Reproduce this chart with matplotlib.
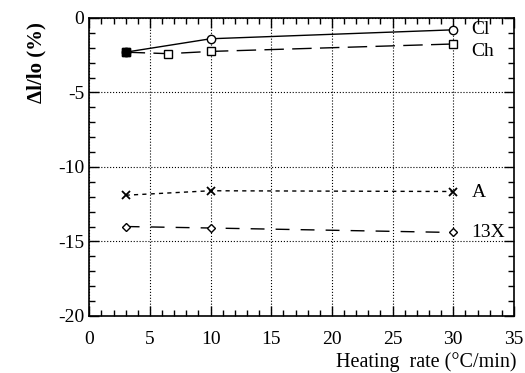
import matplotlib
matplotlib.use("Agg")
from matplotlib import pyplot as plt
from matplotlib.ticker import MultipleLocator

plt.rcParams['font.family'] = ['Liberation Serif', 'DejaVu Serif']
plt.rcParams['axes.unicode_minus'] = False

# heating rates and shrinkage values
cl_x = [3, 10, 30]
cl_y = [-2.3, -1.4, -0.8]
ch_x = [3, 6.5, 10, 30]
ch_y = [-2.3, -2.4, -2.25, -1.75]
a_x = [3, 10, 30]
a_y = [-11.9, -11.6, -11.65]
x13_x = [3, 10, 30]
x13_y = [-14.0, -14.1, -14.4]

fig = plt.figure(figsize=(5.25, 3.73), dpi=100)
ax = fig.add_axes([0.170, 0.153, 0.809, 0.799])

mk = dict(markerfacecolor='white', markeredgecolor='black', color='black', lw=1.0)
ax.plot(cl_x, cl_y, marker='o', ms=6, ls='-', **mk)
ax.plot(ch_x, ch_y, marker='s', ms=6, dashes=(14, 6), **mk)
ax.plot(a_x, a_y, marker='x', ms=6, mew=1.3, dashes=(3, 3), color='black', lw=1.0)
ax.plot(x13_x, x13_y, marker='D', ms=4.5, dashes=(10, 8), **mk)
ax.plot([3], [-2.3], marker='s', ms=6, color='black')

labels = ['Cl', 'Ch', 'A', '13X']
label_y = [-0.8, -2.25, -11.7, -14.4]
for t, yy in zip(labels, label_y):
    ax.text(31.5, yy, t, fontsize=14, va='center', ha='left')

ax.set_xlim(0, 35)
ax.set_ylim(-20, 0)
ax.xaxis.set_major_locator(MultipleLocator(5))
ax.xaxis.set_minor_locator(MultipleLocator(1))
ax.yaxis.set_major_locator(MultipleLocator(5))
ax.yaxis.set_minor_locator(MultipleLocator(1))
ax.tick_params(which='both', direction='in', top=True, right=True, labelsize=14)
ax.tick_params(which='major', length=7, width=1)
ax.tick_params(which='minor', length=4, width=1)
ax.tick_params(axis='x', pad=11)
ax.grid(True, which='major', ls=':', color='black', lw=0.8)
for s in ax.spines.values():
    s.set_linewidth(1.2)

ax.set_xlabel('Heating  rate (°C/min)', fontsize=14.5, loc='right', labelpad=0)
ax.xaxis.set_label_coords(1.005, -0.12)
ax.set_ylabel('Δl/lo (%)', fontsize=15, fontweight='bold')
ax.yaxis.set_label_coords(-0.10, 0.85)

fig.savefig('out.png', dpi=100)
